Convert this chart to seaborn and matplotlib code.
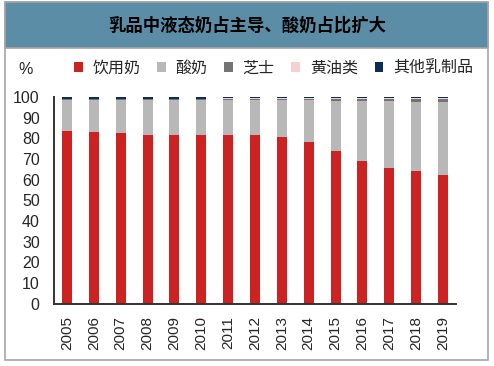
import numpy as np
import pandas as pd
import seaborn as sns
import matplotlib.pyplot as plt
from matplotlib.patches import Rectangle, Patch

# Dados (%)
years = ["2005", "2006", "2007", "2008", "2009", "2010", "2011", "2012",
         "2013", "2014", "2015", "2016", "2017", "2018", "2019"]
milk = [83.3, 82.9, 82.4, 81.8, 81.8, 81.8, 81.8, 81.8, 80.7, 78.2, 73.7, 69.2, 65.7, 64.1, 62.0]
yogurt = [15.4, 15.8, 16.3, 16.8, 16.8, 16.8, 16.9, 16.9, 18.0, 20.4, 24.6, 29.0, 32.4, 33.4, 35.5]
cheese = [0.1, 0.1, 0.1, 0.2, 0.2, 0.2, 0.4, 0.4, 0.4, 0.5, 0.8, 0.9, 1.0, 1.6, 1.6]
butter = [0.3, 0.3, 0.3, 0.3, 0.3, 0.3, 0.4, 0.4, 0.4, 0.4, 0.4, 0.4, 0.4, 0.4, 0.4]
other = [0.9, 0.9, 0.9, 0.9, 0.9, 0.9, 0.5, 0.5, 0.5, 0.5, 0.5, 0.5, 0.5, 0.5, 0.5]

series_names = ["饮用奶", "酸奶", "芝士", "黄油类", "其他乳制品"]
colors = ["#cc2222", "#b8b8b8", "#747474", "#f7d0d1", "#0d2c5a"]
title = "乳品中液态奶占主导、酸奶占比扩大"

sns.set_style("white")
plt.rcParams['font.family'] = ['Liberation Sans', 'Noto Sans CJK SC']

fig = plt.figure(figsize=(4.94, 3.66), dpi=100)

# moldura e faixa do título
fig.patches.append(Rectangle((5 / 494, 1 - 360 / 366), 483 / 494, 358 / 366,
                             transform=fig.transFigure, fill=False,
                             edgecolor="#a6a6a6", linewidth=1.2, zorder=0))
fig.patches.append(Rectangle((5 / 494, 1 - 47.5 / 366), 483 / 494, 45.5 / 366,
                             transform=fig.transFigure, facecolor="#5b8ea6",
                             edgecolor="#a6a6a6", linewidth=1.2, zorder=1))
fig.text(247 / 494, 1 - 25 / 366, title, ha="center", va="center",
         fontsize=12.5, fontweight="bold", color="black")

ax = fig.add_axes([53.6 / 494, 62.5 / 366, 402.8 / 494, 206.5 / 366])

# empilhamento: desenha os acumulados do topo para baixo
layers = [milk, yogurt, cheese, butter, other]
cum = np.cumsum(np.array(layers), axis=0)
for i in range(len(layers) - 1, -1, -1):
    df = pd.DataFrame({"ano": years, "valor": cum[i]})
    sns.barplot(data=df, x="ano", y="valor", color=colors[i], saturation=1,
                width=0.37, ax=ax, linewidth=0)

ax.set_xlim(-0.5, 14.5)
ax.set_ylim(0, 100)
ax.set_yticks(range(0, 101, 10))
ax.set_xlabel("")
ax.set_ylabel("")
ax.set_xticks(range(len(years)))
ax.set_xticklabels(years, rotation=90, fontsize=11)
ax.set_xticks(np.arange(-0.5, 15, 1), minor=True)
ax.tick_params(axis="x", which="major", length=0, pad=9)
ax.tick_params(axis="x", which="minor", length=4, width=1.2, direction="out", color="#333333")
ax.tick_params(axis="y", length=4, width=1.2, direction="out", color="#333333",
               labelsize=11.5, pad=6)
for s in ["top", "right"]:
    ax.spines[s].set_visible(False)
for s in ["left", "bottom"]:
    ax.spines[s].set_color("#333333")
    ax.spines[s].set_linewidth(1.4)

fig.text(26 / 494, 1 - 69 / 366, "%", ha="center", va="center", fontsize=11.5)

handles = [Patch(facecolor=c, edgecolor="none") for c in colors]
fig.legend(handles, series_names, loc="center left",
           bbox_to_anchor=(74 / 494, 1 - 68 / 366), ncol=5, frameon=False,
           fontsize=11.5, handlelength=0.55, handleheight=0.55, handletextpad=0.6,
           columnspacing=1.05, borderaxespad=0, borderpad=0)

fig.savefig("out.png", dpi=100)
